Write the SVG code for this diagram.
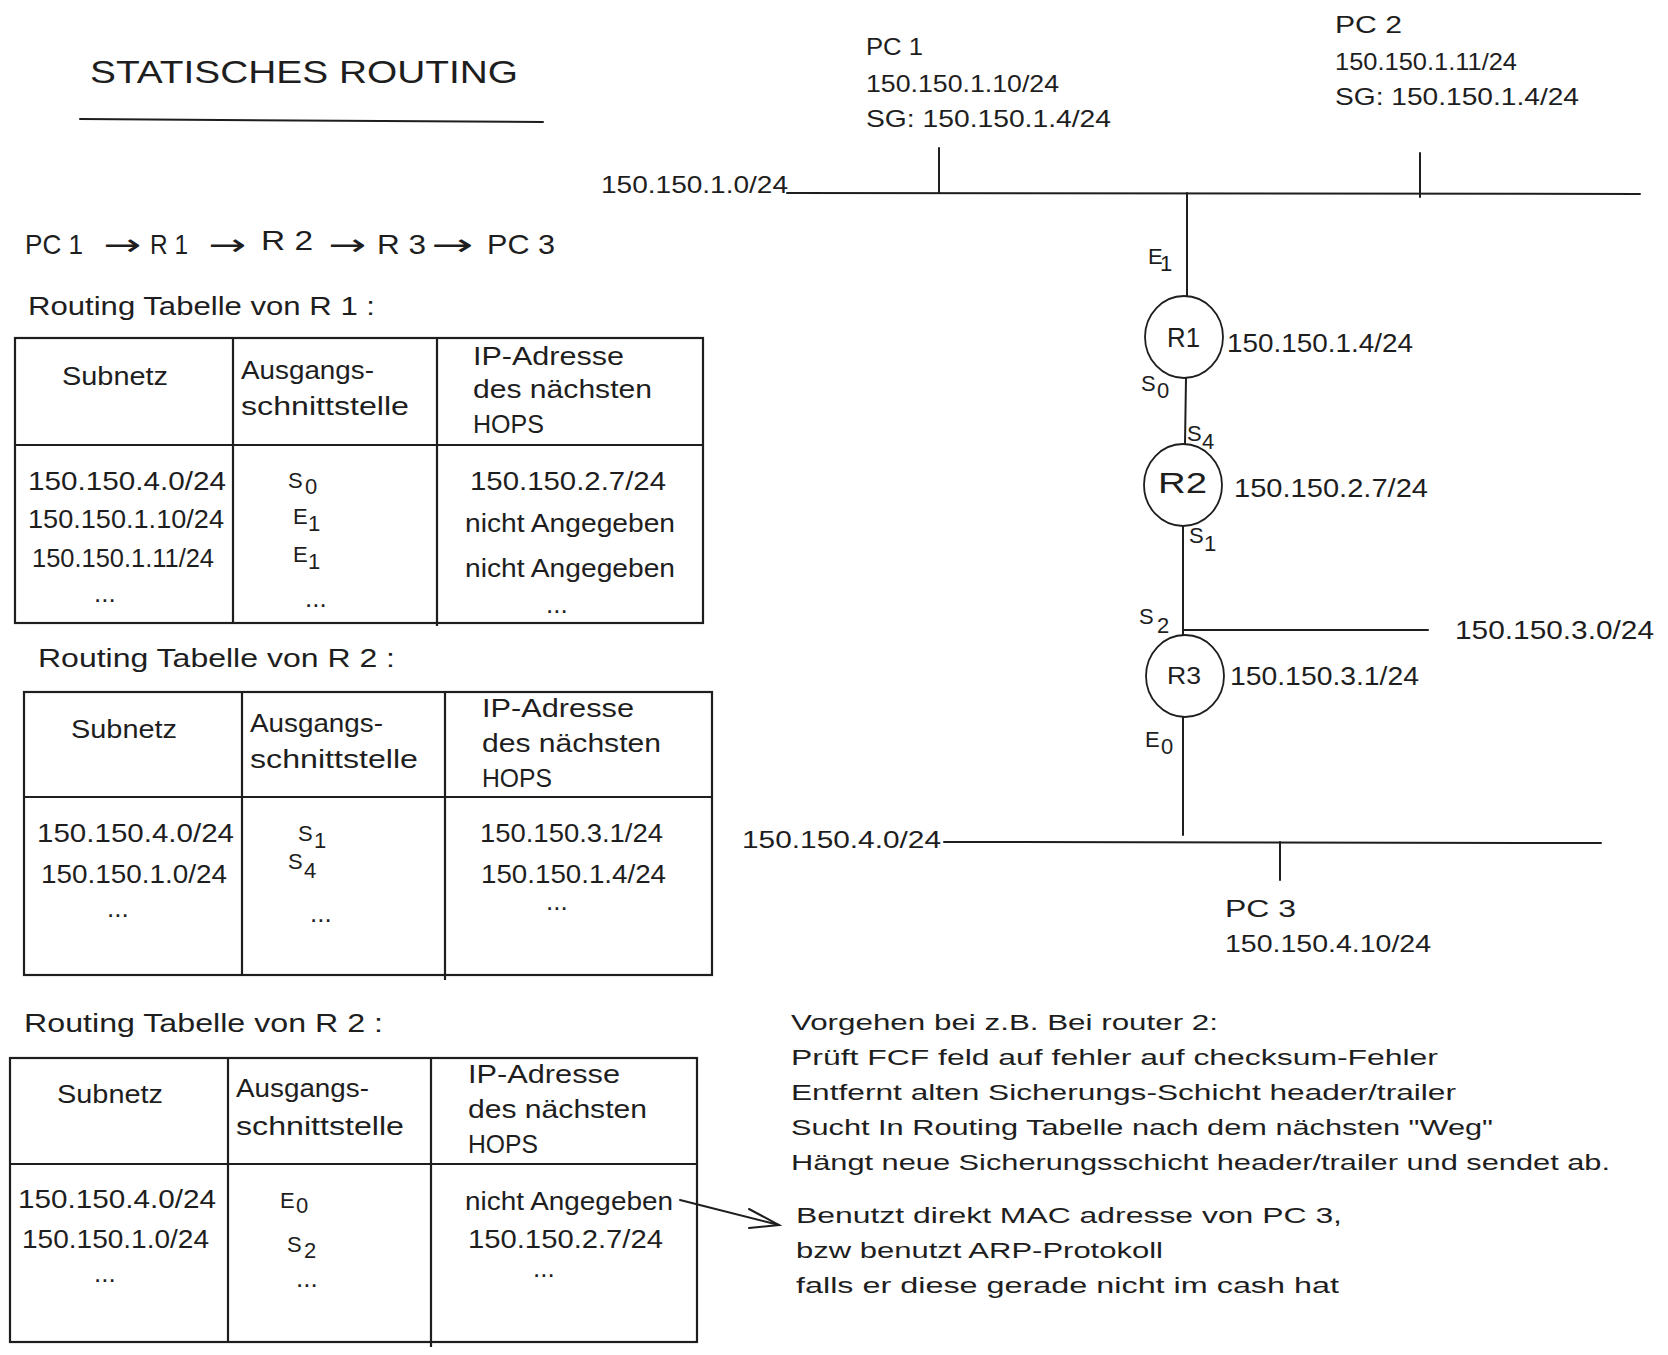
<svg xmlns="http://www.w3.org/2000/svg" width="1668" height="1355" viewBox="0 0 1668 1355">
<style>
text{font-family:"Liberation Sans",Arial,sans-serif;fill:#1e1e1e}
.t{font-size:26px}
.n{font-size:24px}
.p{font-size:22px}
.s{font-size:22px}
.ar{font-family:"DejaVu Sans",sans-serif;font-size:30px}
.ln{stroke:#1e1e1e;stroke-width:2;fill:none;stroke-linecap:round}
.tb{stroke:#1e1e1e;stroke-width:2.2;fill:none}
.rt{stroke:#1e1e1e;stroke-width:1.8;fill:#fff}
</style>
<rect width="1668" height="1355" fill="#fff"/>

<g id="title">
<text x="90" y="83" font-size="31" textLength="428" lengthAdjust="spacingAndGlyphs">STATISCHES ROUTING</text>
<line class="ln" x1="80" y1="119" x2="543" y2="122" stroke-width="2.5"/>
</g>

<g id="path">
<text x="25" y="254" font-size="28" textLength="58" lengthAdjust="spacingAndGlyphs">PC 1</text>
<text class="ar" x="103" y="255" textLength="38" lengthAdjust="spacingAndGlyphs">→</text>
<text x="150" y="254" font-size="28" textLength="38" lengthAdjust="spacingAndGlyphs">R 1</text>
<text class="ar" x="208" y="255" textLength="38" lengthAdjust="spacingAndGlyphs">→</text>
<text x="261" y="250" font-size="28" textLength="52" lengthAdjust="spacingAndGlyphs">R 2</text>
<text class="ar" x="328" y="255" textLength="38" lengthAdjust="spacingAndGlyphs">→</text>
<text x="377" y="254" font-size="28" textLength="49" lengthAdjust="spacingAndGlyphs">R 3</text>
<text class="ar" x="431" y="255" textLength="42" lengthAdjust="spacingAndGlyphs">→</text>
<text x="487" y="254" font-size="28" textLength="68" lengthAdjust="spacingAndGlyphs">PC 3</text>
</g>

<g id="table-r1">
<text class="t" x="28" y="315" textLength="347" lengthAdjust="spacingAndGlyphs">Routing Tabelle von R 1 :</text>
<rect class="tb" x="15" y="338" width="688" height="285"/>
<line class="tb" x1="233" y1="338" x2="233" y2="623"/>
<line class="tb" x1="437" y1="338" x2="437" y2="626"/>
<line class="tb" x1="15" y1="445" x2="703" y2="445"/>
<text class="t" x="62" y="385" textLength="106" lengthAdjust="spacingAndGlyphs">Subnetz</text>
<text class="t" x="241" y="379" textLength="133" lengthAdjust="spacingAndGlyphs">Ausgangs-</text>
<text class="t" x="241" y="415" textLength="168" lengthAdjust="spacingAndGlyphs">schnittstelle</text>
<text class="t" x="473" y="365" textLength="151" lengthAdjust="spacingAndGlyphs">IP-Adresse</text>
<text class="t" x="473" y="398" textLength="179" lengthAdjust="spacingAndGlyphs">des nächsten</text>
<text class="t" x="473" y="433" textLength="71" lengthAdjust="spacingAndGlyphs">HOPS</text>
<text class="t" x="28" y="490" textLength="198" lengthAdjust="spacingAndGlyphs">150.150.4.0/24</text>
<text class="t" x="28" y="528" textLength="196" lengthAdjust="spacingAndGlyphs">150.150.1.10/24</text>
<text class="t" x="32" y="567" textLength="182" lengthAdjust="spacingAndGlyphs">150.150.1.11/24</text>
<text class="t" x="94" y="602">...</text>
<text class="s" x="288" y="488">S</text><text class="s" x="305" y="494">0</text>
<text class="s" x="293" y="524">E</text><text class="s" x="308" y="531">1</text>
<text class="s" x="293" y="562">E</text><text class="s" x="308" y="569">1</text>
<text class="t" x="305" y="607">...</text>
<text class="t" x="470" y="490" textLength="196" lengthAdjust="spacingAndGlyphs">150.150.2.7/24</text>
<text class="t" x="465" y="532" textLength="210" lengthAdjust="spacingAndGlyphs">nicht Angegeben</text>
<text class="t" x="465" y="577" textLength="210" lengthAdjust="spacingAndGlyphs">nicht Angegeben</text>
<text class="t" x="546" y="613">...</text>
</g>

<g id="table-r2">
<text class="t" x="38" y="667" textLength="357" lengthAdjust="spacingAndGlyphs">Routing Tabelle von R 2 :</text>
<rect class="tb" x="24" y="692" width="688" height="283"/>
<line class="tb" x1="242" y1="692" x2="242" y2="975"/>
<line class="tb" x1="445" y1="692" x2="445" y2="980"/>
<line class="tb" x1="24" y1="797" x2="712" y2="797"/>
<text class="t" x="71" y="738" textLength="106" lengthAdjust="spacingAndGlyphs">Subnetz</text>
<text class="t" x="250" y="732" textLength="133" lengthAdjust="spacingAndGlyphs">Ausgangs-</text>
<text class="t" x="250" y="768" textLength="168" lengthAdjust="spacingAndGlyphs">schnittstelle</text>
<text class="t" x="482" y="717" textLength="152" lengthAdjust="spacingAndGlyphs">IP-Adresse</text>
<text class="t" x="482" y="752" textLength="179" lengthAdjust="spacingAndGlyphs">des nächsten</text>
<text class="t" x="482" y="787" textLength="70" lengthAdjust="spacingAndGlyphs">HOPS</text>
<text class="t" x="37" y="842" textLength="197" lengthAdjust="spacingAndGlyphs">150.150.4.0/24</text>
<text class="t" x="41" y="883" textLength="186" lengthAdjust="spacingAndGlyphs">150.150.1.0/24</text>
<text class="t" x="107" y="917">...</text>
<text class="s" x="298" y="841">S</text><text class="s" x="314" y="848">1</text>
<text class="s" x="288" y="869">S</text><text class="s" x="304" y="878">4</text>
<text class="t" x="310" y="922">...</text>
<text class="t" x="480" y="842" textLength="183" lengthAdjust="spacingAndGlyphs">150.150.3.1/24</text>
<text class="t" x="481" y="883" textLength="185" lengthAdjust="spacingAndGlyphs">150.150.1.4/24</text>
<text class="t" x="546" y="910">...</text>
</g>

<g id="table-r3">
<text class="t" x="24" y="1032" textLength="359" lengthAdjust="spacingAndGlyphs">Routing Tabelle von R 2 :</text>
<rect class="tb" x="10" y="1058" width="687" height="284"/>
<line class="tb" x1="228" y1="1058" x2="228" y2="1342"/>
<line class="tb" x1="431" y1="1058" x2="431" y2="1347"/>
<line class="tb" x1="10" y1="1164" x2="697" y2="1164"/>
<text class="t" x="57" y="1103" textLength="106" lengthAdjust="spacingAndGlyphs">Subnetz</text>
<text class="t" x="236" y="1097" textLength="133" lengthAdjust="spacingAndGlyphs">Ausgangs-</text>
<text class="t" x="236" y="1135" textLength="168" lengthAdjust="spacingAndGlyphs">schnittstelle</text>
<text class="t" x="468" y="1083" textLength="152" lengthAdjust="spacingAndGlyphs">IP-Adresse</text>
<text class="t" x="468" y="1118" textLength="179" lengthAdjust="spacingAndGlyphs">des nächsten</text>
<text class="t" x="468" y="1153" textLength="70" lengthAdjust="spacingAndGlyphs">HOPS</text>
<text class="t" x="18" y="1208" textLength="198" lengthAdjust="spacingAndGlyphs">150.150.4.0/24</text>
<text class="t" x="22" y="1248" textLength="187" lengthAdjust="spacingAndGlyphs">150.150.1.0/24</text>
<text class="t" x="94" y="1282">...</text>
<text class="s" x="280" y="1208">E</text><text class="s" x="296" y="1213">0</text>
<text class="s" x="287" y="1252">S</text><text class="s" x="304" y="1258">2</text>
<text class="t" x="296" y="1287">...</text>
<text class="t" x="465" y="1210" textLength="208" lengthAdjust="spacingAndGlyphs">nicht Angegeben</text>
<text class="t" x="468" y="1248" textLength="195" lengthAdjust="spacingAndGlyphs">150.150.2.7/24</text>
<text class="t" x="533" y="1277">...</text>
</g>

<g id="notes">
<text class="p" x="791" y="1030" textLength="427" lengthAdjust="spacingAndGlyphs">Vorgehen bei z.B. Bei router 2:</text>
<text class="p" x="791" y="1065" textLength="647" lengthAdjust="spacingAndGlyphs">Prüft FCF feld auf fehler auf checksum-Fehler</text>
<text class="p" x="791" y="1100" textLength="665" lengthAdjust="spacingAndGlyphs">Entfernt alten Sicherungs-Schicht header/trailer</text>
<text class="p" x="791" y="1135" textLength="702" lengthAdjust="spacingAndGlyphs">Sucht In Routing Tabelle nach dem nächsten "Weg"</text>
<text class="p" x="791" y="1170" textLength="819" lengthAdjust="spacingAndGlyphs">Hängt neue Sicherungsschicht header/trailer und sendet ab.</text>
<text class="p" x="796" y="1223" textLength="546" lengthAdjust="spacingAndGlyphs">Benutzt direkt MAC adresse von PC 3,</text>
<text class="p" x="796" y="1258" textLength="367" lengthAdjust="spacingAndGlyphs">bzw benutzt ARP-Protokoll</text>
<text class="p" x="796" y="1293" textLength="543" lengthAdjust="spacingAndGlyphs">falls er diese gerade nicht im cash hat</text>
</g>

<g id="connectors">
<line class="ln" x1="787" y1="193" x2="1640" y2="194"/>
<line class="ln" x1="939" y1="148" x2="939" y2="193"/>
<line class="ln" x1="1420" y1="153" x2="1420" y2="197"/>
<line class="ln" x1="1187" y1="193" x2="1187" y2="297"/>
<line class="ln" x1="1186" y1="378" x2="1185" y2="444"/>
<line class="ln" x1="1183" y1="525" x2="1183" y2="635"/>
<line class="ln" x1="1183" y1="630" x2="1428" y2="630"/>
<line class="ln" x1="1183" y1="717" x2="1183" y2="835"/>
<line class="ln" x1="944" y1="842" x2="1601" y2="843"/>
<line class="ln" x1="1280" y1="842" x2="1280" y2="880"/>
<line class="ln" x1="680" y1="1200" x2="779" y2="1225"/>
<polyline class="ln" points="749,1209 779,1225 749,1228"/>
</g>

<g id="net-150-150-1-0">
<text class="n" x="601" y="193" textLength="187" lengthAdjust="spacingAndGlyphs">150.150.1.0/24</text>
</g>
<g id="pc1">
<text class="n" x="866" y="55" textLength="57" lengthAdjust="spacingAndGlyphs">PC 1</text>
<text class="n" x="866" y="92" textLength="193" lengthAdjust="spacingAndGlyphs">150.150.1.10/24</text>
<text class="n" x="866" y="127" textLength="245" lengthAdjust="spacingAndGlyphs">SG: 150.150.1.4/24</text>
</g>
<g id="pc2">
<text class="n" x="1335" y="33" textLength="67" lengthAdjust="spacingAndGlyphs">PC 2</text>
<text class="n" x="1335" y="70" textLength="182" lengthAdjust="spacingAndGlyphs">150.150.1.11/24</text>
<text class="n" x="1335" y="105" textLength="244" lengthAdjust="spacingAndGlyphs">SG: 150.150.1.4/24</text>
</g>
<g id="r1">
<ellipse class="rt" cx="1184" cy="337" rx="39" ry="41"/>
<text x="1167" y="347" font-size="28" textLength="33" lengthAdjust="spacingAndGlyphs">R1</text>
<text class="t" x="1227" y="352" textLength="186" lengthAdjust="spacingAndGlyphs">150.150.1.4/24</text>
<text class="s" x="1148" y="264" font-size="18">E</text><text class="s" x="1160" y="271" font-size="18">1</text>
<text class="s" x="1141" y="391">S</text><text class="s" x="1157" y="398">0</text>
</g>
<g id="r2">
<ellipse class="rt" cx="1183" cy="485" rx="39" ry="41"/>
<text x="1158" y="493" font-size="30" textLength="49" lengthAdjust="spacingAndGlyphs">R2</text>
<text class="t" x="1234" y="497" textLength="194" lengthAdjust="spacingAndGlyphs">150.150.2.7/24</text>
<text class="s" x="1187" y="441">S</text><text class="s" x="1202" y="449">4</text>
<text class="s" x="1189" y="543">S</text><text class="s" x="1204" y="551">1</text>
</g>
<g id="r3">
<ellipse class="rt" cx="1185" cy="676" rx="39" ry="41"/>
<text x="1167" y="684" font-size="24" textLength="34" lengthAdjust="spacingAndGlyphs">R3</text>
<text class="t" x="1230" y="685" textLength="189" lengthAdjust="spacingAndGlyphs">150.150.3.1/24</text>
<text class="s" x="1139" y="624">S</text><text class="s" x="1157" y="633">2</text>
<text class="s" x="1145" y="747">E</text><text class="s" x="1161" y="754">0</text>
</g>
<g id="net-150-150-3-0">
<text class="t" x="1455" y="639" textLength="199" lengthAdjust="spacingAndGlyphs">150.150.3.0/24</text>
</g>
<g id="net-150-150-4-0">
<text class="n" x="742" y="848" textLength="199" lengthAdjust="spacingAndGlyphs">150.150.4.0/24</text>
</g>
<g id="pc3">
<text class="n" x="1225" y="917" textLength="71" lengthAdjust="spacingAndGlyphs">PC 3</text>
<text class="n" x="1225" y="952" textLength="206" lengthAdjust="spacingAndGlyphs">150.150.4.10/24</text>
</g>
</svg>
